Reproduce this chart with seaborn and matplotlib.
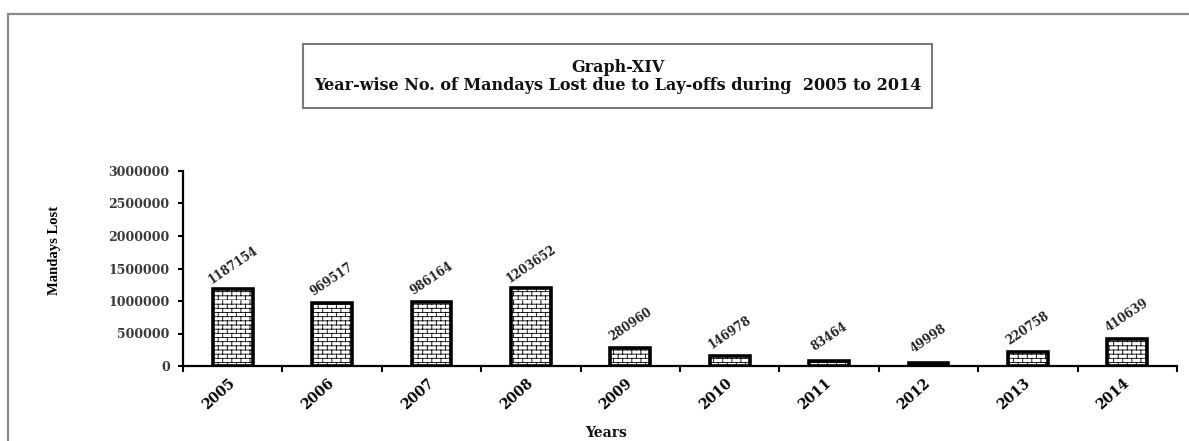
import warnings

import matplotlib
matplotlib.use("Agg")
import matplotlib.pyplot as plt
from matplotlib import hatch as mhatch
from matplotlib.path import Path
from matplotlib.patches import Rectangle
import seaborn as sns

# ---- data -------------------------------------------------------------
years = ["2005", "2006", "2007", "2008", "2009",
         "2010", "2011", "2012", "2013", "2014"]
mandays_lost = [1187154, 969517, 986164, 1203652, 280960,
                146978, 83464, 49998, 220758, 410639]
y_ticks = [0, 500000, 1000000, 1500000, 2000000, 2500000, 3000000]

title_line1 = "Graph-XIV"
title_line2 = "Year-wise No. of Mandays Lost due to Lay-offs during  2005 to 2014"
x_label = "Years"
y_label = "Mandays Lost"


# ---- brick-wall hatch ('b') -------------------------------------------
class BrickHatch(mhatch.HatchPatternBase):
    """Staggered brick courses, selected with the 'b' hatch character."""

    def __init__(self, hatch, density):
        n = hatch.count("b")
        self.rows = 24 * n
        self.cols = 11 * n
        self.num_vertices = 0 if n == 0 else 2 * self.rows + 2 * self.rows * self.cols

    def set_vertices_and_codes(self, vertices, codes):
        i = 0
        for k in range(self.rows):
            y0 = k / self.rows
            vertices[i] = (0.0, y0)
            vertices[i + 1] = (1.0, y0)
            codes[i] = Path.MOVETO
            codes[i + 1] = Path.LINETO
            i += 2
        for k in range(self.rows):
            y0 = k / self.rows
            y1 = (k + 1) / self.rows
            shift = 0.5 if k % 2 else 0.0
            for j in range(self.cols):
                x = (j + shift) / self.cols
                vertices[i] = (x, y0)
                vertices[i + 1] = (x, y1)
                codes[i] = Path.MOVETO
                codes[i + 1] = Path.LINETO
                i += 2


mhatch._hatch_types.append(BrickHatch)

# ---- figure -----------------------------------------------------------
W, H = 1189, 441
fig = plt.figure(figsize=(W / 100, H / 100), dpi=100)
fig.patch.set_facecolor("white")

plt.rcParams["hatch.linewidth"] = 0.6
num_font = "DejaVu Serif"

ax = fig.add_axes([183 / W, 1 - 366 / H, (1177 - 183) / W, (366 - 171) / H])
sns.barplot(x=years, y=mandays_lost, color="white", saturation=1,
            edgecolor="black", linewidth=2.6, width=0.4, ax=ax)

with warnings.catch_warnings():
    warnings.simplefilter("ignore")
    for bar in ax.patches:
        try:
            bar.set_hatch("b")
        except Exception:
            bar.set_hatch("+++")

ax.set_xlim(-0.5, len(years) - 0.5)
ax.set_ylim(0, 3000000)
ax.set_yticks(y_ticks)
ax.set_yticklabels([str(t) for t in y_ticks], fontfamily=num_font,
                   fontweight="bold", fontsize=9, color="#3a3a3a")
ax.tick_params(axis="y", length=3.6, width=1.5, pad=6, color="black")

ax.set_xticks(range(len(years)))
ax.set_xticklabels(years, rotation=42, ha="right", va="center",
                   rotation_mode="anchor", fontfamily=num_font,
                   fontweight="bold", fontsize=10)
ax.tick_params(axis="x", which="major", length=0, pad=11)
ax.set_xticks([i - 0.5 for i in range(len(years) + 1)], minor=True)
ax.tick_params(axis="x", which="minor", length=4, width=1.5, color="black")

for side in ("top", "right"):
    ax.spines[side].set_visible(False)
for side in ("left", "bottom"):
    ax.spines[side].set_linewidth(1.6)
    ax.spines[side].set_color("black")
ax.set_xlabel("")
ax.set_ylabel("")
ax.set_facecolor("white")

# value labels above each bar
for i, v in enumerate(mandays_lost):
    ax.annotate(str(v), xy=(i, v), xytext=(0, 17), textcoords="offset points",
                ha="center", va="center", rotation=34, rotation_mode="anchor",
                fontfamily=num_font, fontweight="bold", fontsize=8.5,
                color="#222222")

# axis titles
fig.text(55 / W, 1 - 250 / H, y_label, rotation=90, ha="center", va="center",
         fontfamily="Liberation Serif", fontweight="bold", fontsize=10.5)
fig.text(606 / W, 1 - 433 / H, x_label, ha="center", va="center",
         fontfamily=num_font, fontweight="bold", fontsize=10, color="#111111")

# title box
fig.add_artist(Rectangle((303 / W, 1 - 108 / H), (932 - 303) / W, 64 / H,
                         transform=fig.transFigure, facecolor="white",
                         edgecolor="#7a7a7a", linewidth=1.5))
fig.text(617.5 / W, 1 - 68 / H, title_line1, ha="center", va="center",
         fontfamily=num_font, fontweight="bold", fontsize=11.5, color="#111111")
fig.text(617.5 / W, 1 - 85 / H, title_line2, ha="center", va="center",
         fontfamily=num_font, fontweight="bold", fontsize=11.5, color="#111111")

# outer frame
fig.add_artist(Rectangle((8 / W, -0.5), 2.0, (1 - 14 / H) + 0.5,
                         transform=fig.transFigure, fill=False,
                         edgecolor="#8a8a8a", linewidth=1.6))

fig.savefig("out.png", dpi=100, facecolor="white")
